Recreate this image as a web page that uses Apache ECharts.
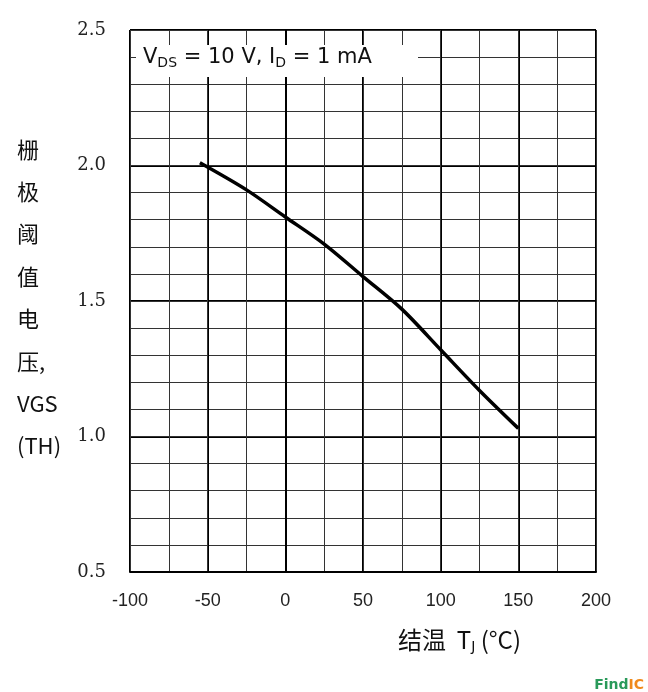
<!DOCTYPE html>
<html><head><meta charset="utf-8">
<script src="https://cdn.jsdelivr.net/npm/echarts@6/dist/echarts.min.js"></script>
<style>html,body{margin:0;padding:0;background:#fff}#c{width:648px;height:692px}</style>
</head><body><div id="c"></div>
<script>
const tempC = [-55, -25, 0, 25, 50, 75, 100, 125, 150];
const vgsTh = [2.01, 1.91, 1.81, 1.71, 1.59, 1.47, 1.32, 1.17, 1.03];
const xTicks = [-100, -50, 0, 50, 100, 150, 200];
const yTicks = ['0.5', '1.0', '1.5', '2.0', '2.5'];
const yLabelLines = ['栅', '极', '阈', '值', '电', '压,', 'VGS', '(TH)'];

const chart = echarts.init(document.getElementById('c'));
const font = 'DejaVu Serif';
chart.setOption({
  animation: false,
  grid: {left: 130, right: 52, top: 30, bottom: 120},
  xAxis: [
    {type: 'value', min: -100, max: 200, interval: 50,
     axisLine: {show: true, lineStyle: {color: '#000', width: 2}},
     axisTick: {show: false},
     axisLabel: {color: '#222', fontSize: 18, fontFamily: 'Liberation Sans', margin: 20},
     splitLine: {show: true, lineStyle: {color: '#000', width: 2}}},
    {type: 'value', min: -100, max: 200, interval: 25, position: 'bottom',
     axisLine: {show: false}, axisTick: {show: false}, axisLabel: {show: false},
     splitLine: {show: true, lineStyle: {color: '#333', width: 1}}}
  ],
  yAxis: [
    {type: 'value', min: 0.5, max: 2.5, interval: 0.5,
     axisLine: {show: true, lineStyle: {color: '#000', width: 2}},
     axisTick: {show: false},
     axisLabel: {color: '#222', fontSize: 18, fontFamily: font, margin: 24,
       formatter: v => yTicks.find(t => Math.abs(parseFloat(t) - v) < 1e-6) || ''},
     splitLine: {show: true, lineStyle: {color: '#000', width: 2}}},
    {type: 'value', min: 0.5, max: 2.5, interval: 0.1, position: 'left',
     axisLine: {show: false}, axisTick: {show: false}, axisLabel: {show: false},
     splitLine: {show: true, lineStyle: {color: '#333', width: 1}}}
  ],
  series: [{
    type: 'line', xAxisIndex: 0, yAxisIndex: 0, symbol: 'none', smooth: 0.3,
    lineStyle: {color: '#000', width: 3.5},
    data: tempC.map((t, i) => [t, vgsTh[i]]),
    z: 5
  }],
  graphic: [
    {type: 'rect', left: 136, top: 45, shape: {width: 282, height: 32}, style: {fill: '#fff'}, z: 10},
    {type: 'text', left: 143, top: 47, z: 11, style: {
      rich: {n: {fontSize: 21, fontFamily: 'DejaVu Sans', fill: '#111'},
             s: {fontSize: 14, fontFamily: 'DejaVu Sans', fill: '#111', padding: [12, 0, 0, 0]}},
      text: '{n|V}{s|DS}{n| = 10 V, I}{s|D}{n| = 1 mA}'}},
    {type: 'text', left: 17, top: 128, z: 11, style: {
      text: yLabelLines.join('\n'), fontSize: 22, lineHeight: 42.4,
      fontFamily: 'Noto Sans CJK SC', fill: '#111', align: 'left'}},
    {type: 'text', left: 398, top: 628, z: 11, style: {
      rich: {n: {fontSize: 24, fontFamily: 'Noto Sans CJK SC', fill: '#111'},
             s: {fontSize: 14, fontFamily: 'DejaVu Sans', fill: '#111', padding: [14, 0, 0, 0]}},
      text: '{n|结温  T}{s|J}{n| (°C)}'}},
    {type: 'text', right: 4, bottom: 0, z: 11, style: {
      rich: {a: {fontSize: 14, fontWeight: 'bold', fill: '#2a9a5a', fontFamily: 'DejaVu Sans'},
             b: {fontSize: 14, fontWeight: 'bold', fill: '#f08a1c', fontFamily: 'DejaVu Sans'}},
      text: '{a|Find}{b|IC}'}}
  ]
});
</script></body></html>
